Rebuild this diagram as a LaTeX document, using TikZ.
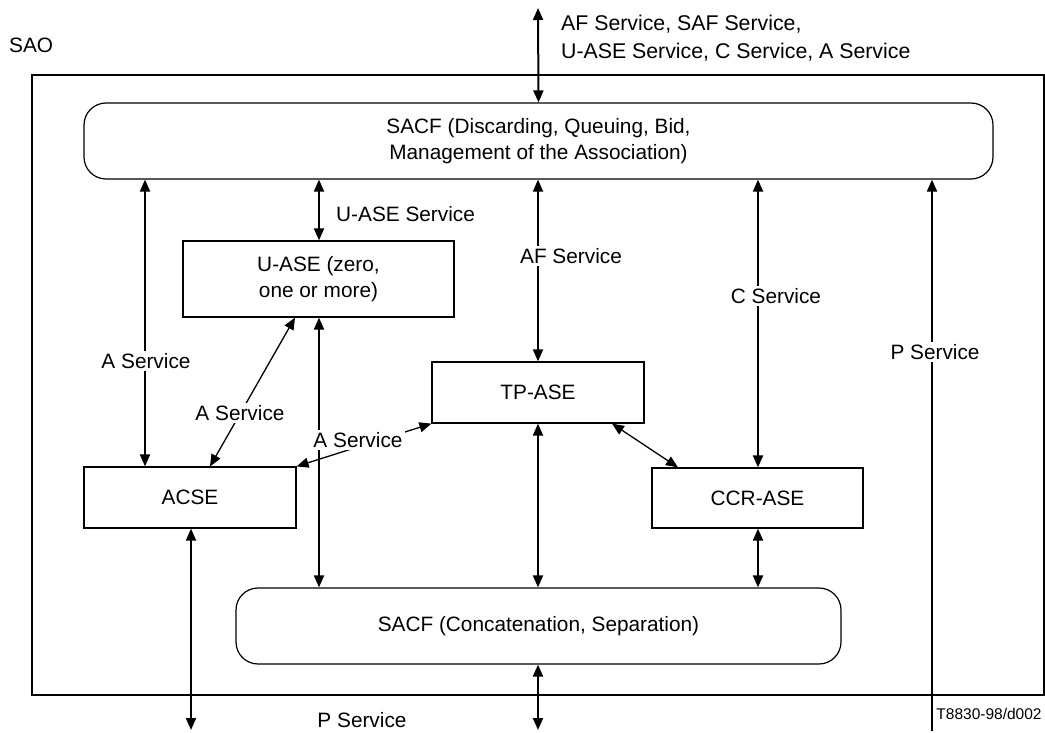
\documentclass[tikz,border=0pt]{standalone}
\usepackage{fontspec}
\setmainfont{Liberation Sans}
\usetikzlibrary{arrows.meta}
\begin{document}
\begin{tikzpicture}[x=1pt,y=-1pt,
  txt/.style={font=\fontsize{20.8}{26}\selectfont, inner sep=1pt},
  box/.style={draw, line width=1.2pt, inner sep=0pt, txt, align=center},
  rbox/.style={box, rounded corners=22pt},
  lbl/.style={txt, fill=white, inner sep=2pt},
  tip/.tip={Triangle[length=12pt,width=10pt]},
  dar/.style={line width=2pt, tip-tip},
  sar/.style={line width=2pt, -tip},
  diag/.style={line width=1.3pt, tip-tip}
]
\useasboundingbox (0,0) rectangle (1045,733);

% frame
\node[draw, line width=1.2pt, minimum width=1012pt, minimum height=620pt, inner sep=0pt] (sao) at (538,385) {};
\node[txt, anchor=west] (saolbl) at (8,45) {SAO};

% boxes
\node[rbox, minimum width=909pt, minimum height=76pt] (sacf1) at (538.5,141)
  {SACF (Discarding, Queuing, Bid,\\Management of the Association)};
\node[box, minimum width=271pt, minimum height=76pt] (uase) at (318.5,279)
  {U-ASE (zero,\\one or more)};
\node[box, minimum width=212pt, minimum height=61pt] (tpase) at (538,392.5) {TP-ASE};
\node[box, minimum width=212pt, minimum height=61pt] (acse) at (190,497.5) {ACSE};
\node[box, minimum width=211pt, minimum height=60pt] (ccrase) at (757.5,498) {CCR-ASE};
\node[rbox, minimum width=605pt, minimum height=76pt] (sacf2) at (538.5,626)
  {SACF (Concatenation, Separation)};

% free-end coordinates
\coordinate (topend) at (538,8);
\coordinate (acsebot) at (191,730);
\coordinate (sacfbot) at (538,730);
\coordinate (pbot) at (932,731);

% top arrow
\draw[dar] (topend) -- (sacf1.north);
\node[anchor=west, align=left, inner sep=1pt, font=\fontsize{21.3}{28}\selectfont] (toplbl) at (560,38)
  {AF Service, SAF Service,\\U-ASE Service, C Service, A Service};

% SACF1 to modules
\draw[dar] (sacf1.south -| 145,0) -- (acse.north -| 145,0);
\node[lbl] (la1) at (146,361) {A Service};
\draw[dar] (sacf1.south -| 319,0) -- (uase.north -| 319,0);
\node[txt, anchor=west] (luase) at (335,214) {U-ASE Service};
\draw[dar] (sacf1.south -| 538,0) -- (tpase.north);
\node[lbl] (laf) at (571,256) {AF Service};
\draw[dar] (sacf1.south -| 758,0) -- (ccrase.north -| 758,0);
\node[lbl] (lc) at (776,296) {C Service};
\draw[sar] (pbot) -- (sacf1.south -| 932,0);
\node[lbl] (lp) at (935,352) {P Service};

% internal connections
\draw[dar] (uase.south -| 319,0) -- (sacf2.north -| 319,0);
\draw[diag] (uase.south -| 295,0) -- (acse.north -| 210,0);
\node[lbl] (la2) at (240,413) {A Service};
\draw[diag] (acse.north east) -- (tpase.south west);
\node[lbl] (la3) at (358,440) {A Service};
\draw[dar] (tpase.south) -- (sacf2.north -| 538,0);
\draw[diag] (tpase.south -| 612,0) -- (ccrase.north -| 678,0);
\draw[dar] (ccrase.south -| 758,0) -- (sacf2.north -| 758,0);

% bottom
\draw[dar] (acse.south -| 191,0) -- (acsebot);
\draw[dar] (sacf2.south -| 538,0) -- (sacfbot);
\node[txt] (lpb) at (362,720) {P Service};
\node[font=\fontsize{15.5}{18}\selectfont, inner sep=0pt] (code) at (989,714) {T8830-98/d002};
\end{tikzpicture}
\end{document}
